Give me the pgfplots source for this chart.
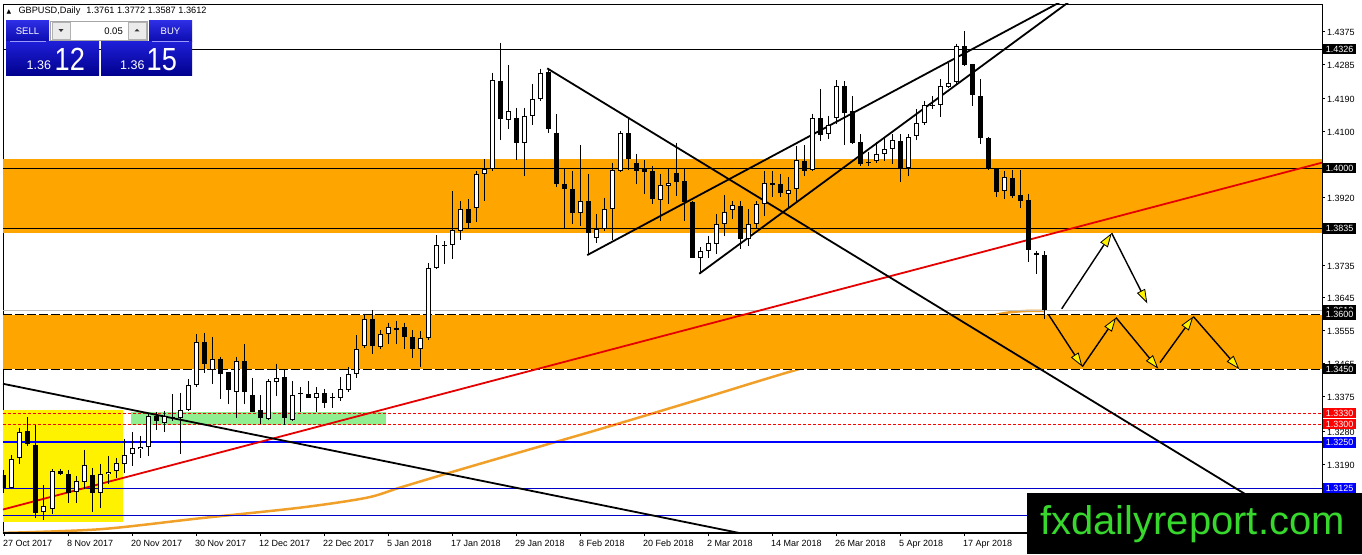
\documentclass[border=0pt]{standalone}
\usepackage{fontspec}
\setmainfont{Liberation Sans}
\newfontfamily\dejavu{DejaVu Sans}
\usepackage{pgfplots}
\pgfplotsset{compat=1.18}
\usepackage{pgfplotstable}
\usetikzlibrary{arrows.meta}

\definecolor{band}{RGB}{255,165,0}
\definecolor{ma}{RGB}{240,160,40}
\definecolor{lgreen}{RGB}{144,238,144}
\definecolor{navyl}{RGB}{0,0,200}
\definecolor{btop}{RGB}{45,45,228}
\definecolor{bbot}{RGB}{12,12,175}
\definecolor{bigtop}{RGB}{30,30,215}
\definecolor{bigbot}{RGB}{0,0,140}
\definecolor{wmgreen}{RGB}{55,215,45}

% white (rising) candles: index, open, high, low, close
\pgfplotstableread{
i o h l c
1 1.3124 1.3215 1.3121 1.3203
2 1.3206 1.3290 1.3190 1.3279
5 1.3058 1.3133 1.3038 1.3075
6 1.3068 1.3176 1.3055 1.3170
9 1.3114 1.3158 1.3083 1.3144
10 1.3142 1.3228 1.3121 1.3188
12 1.3112 1.3190 1.3071 1.3162
13 1.3162 1.3212 1.3135 1.3168
14 1.3170 1.3207 1.3153 1.3192
15 1.3191 1.3258 1.3167 1.3215
16 1.3217 1.3277 1.3185 1.3233
17 1.3231 1.3267 1.3207 1.3238
18 1.3236 1.3327 1.3212 1.3322
20 1.3304 1.3335 1.3277 1.3322
21 1.3317 1.3381 1.3309 1.3320
22 1.3317 1.3386 1.3219 1.3337
23 1.3337 1.3422 1.3335 1.3406
24 1.3406 1.3545 1.3401 1.3523
26 1.3447 1.3538 1.3410 1.3477
29 1.3388 1.3484 1.3317 1.3472
33 1.3313 1.3422 1.3311 1.3417
34 1.3416 1.3465 1.3377 1.3427
36 1.3311 1.3417 1.3309 1.3378
37 1.3381 1.3401 1.3332 1.3384
39 1.3372 1.3401 1.3332 1.3384
41 1.3372 1.3386 1.3343 1.3375
42 1.3370 1.3429 1.3363 1.3395
43 1.3392 1.3456 1.3388 1.3438
44 1.3436 1.3543 1.3425 1.3504
45 1.3514 1.3601 1.3509 1.3587
47 1.3511 1.3556 1.3504 1.3545
48 1.3545 1.3577 1.3520 1.3566
49 1.3558 1.3583 1.3520 1.3563
52 1.3504 1.3554 1.3456 1.3536
53 1.3536 1.3741 1.3531 1.3727
54 1.3728 1.3816 1.3723 1.3789
55 1.3788 1.3801 1.3737 1.3790
56 1.3789 1.3937 1.3752 1.3830
57 1.3828 1.3910 1.3803 1.3889
59 1.3892 1.3992 1.3853 1.3983
60 1.3983 1.4024 1.3910 1.3997
61 1.3997 1.4261 1.3992 1.4241
63 1.4133 1.4281 1.4106 1.4156
65 1.4070 1.4165 1.3979 1.4143
66 1.4143 1.4229 1.4117 1.4188
67 1.4188 1.4272 1.4184 1.4261
72 1.3876 1.4062 1.3843 1.3910
74 1.3808 1.3874 1.3794 1.3833
75 1.3834 1.3919 1.3828 1.3887
76 1.3887 1.4015 1.3803 1.3995
77 1.3992 1.4102 1.3989 1.4095
82 1.3912 1.3985 1.3855 1.3953
83 1.3951 1.4001 1.3901 1.3958
87 1.3755 1.3784 1.3709 1.3773
88 1.3773 1.3814 1.3755 1.3796
89 1.3793 1.3874 1.3764 1.3846
90 1.3846 1.3927 1.3814 1.3881
91 1.3885 1.3910 1.3860 1.3898
93 1.3805 1.3887 1.3787 1.3848
94 1.3846 1.3910 1.3837 1.3901
95 1.3901 1.3992 1.3869 1.3958
96 1.3957 1.3992 1.3921 1.3958
98 1.3930 1.3976 1.3892 1.3939
99 1.3942 1.4061 1.3910 1.4021
101 1.3994 1.4149 1.3992 1.4136
103 1.4093 1.4143 1.4080 1.4118
104 1.4136 1.4240 1.4120 1.4225
108 1.4014 1.4045 1.4006 1.4016
109 1.4020 1.4072 1.4015 1.4040
110 1.4040 1.4083 1.4020 1.4052
111 1.4052 1.4093 1.4010 1.4076
113 1.3999 1.4093 1.3979 1.4085
114 1.4088 1.4161 1.4076 1.4124
115 1.4124 1.4184 1.4118 1.4173
116 1.4172 1.4197 1.4161 1.4174
117 1.4173 1.4243 1.4140 1.4225
118 1.4222 1.4289 1.4220 1.4234
119 1.4236 1.4341 1.4229 1.4334
125 1.3937 1.3992 1.3915 1.3976
}\upc

% black (falling) candles: index, open, high, low, close
\pgfplotstableread{
i o h l c
0 1.3160 1.3175 1.3110 1.3124
3 1.3281 1.3319 1.3240 1.3245
4 1.3242 1.3297 1.3042 1.3057
7 1.3171 1.3176 1.3160 1.3164
8 1.3162 1.3173 1.3085 1.3112
11 1.3160 1.3180 1.3060 1.3112
19 1.3322 1.3333 1.3283 1.3307
25 1.3523 1.3550 1.3440 1.3465
27 1.3479 1.3484 1.3367 1.3438
28 1.3441 1.3443 1.3356 1.3392
30 1.3472 1.3518 1.3356 1.3388
31 1.3379 1.3427 1.3332 1.3334
32 1.3337 1.3379 1.3301 1.3315
35 1.3429 1.3447 1.3297 1.3317
38 1.3381 1.3417 1.3370 1.3372
40 1.3384 1.3395 1.3345 1.3358
46 1.3587 1.3612 1.3492 1.3514
50 1.3566 1.3577 1.3504 1.3538
51 1.3538 1.3556 1.3480 1.3504
58 1.3889 1.3915 1.3833 1.3849
62 1.4238 1.4343 1.4077 1.4135
64 1.4138 1.4165 1.4022 1.4070
68 1.4263 1.4275 1.4097 1.4108
69 1.4097 1.4147 1.3949 1.3956
70 1.3956 1.3999 1.3833 1.3944
71 1.3944 1.3992 1.3846 1.3878
73 1.3910 1.3983 1.3764 1.3822
78 1.4095 1.4138 1.3995 1.4026
79 1.4015 1.4040 1.3956 1.3992
80 1.3997 1.4022 1.3928 1.3989
81 1.3992 1.4006 1.3901 1.3915
84 1.3986 1.4070 1.3924 1.3963
85 1.3965 1.3997 1.3855 1.3906
86 1.3906 1.3910 1.3753 1.3755
92 1.3896 1.3910 1.3778 1.3805
97 1.3957 1.3985 1.3921 1.3933
100 1.4019 1.4063 1.3978 1.3992
102 1.4136 1.4216 1.4074 1.4092
105 1.4225 1.4238 1.4063 1.4152
106 1.4155 1.4197 1.4067 1.4070
107 1.4072 1.4093 1.4006 1.4012
112 1.4074 1.4093 1.3963 1.3997
120 1.4334 1.4375 1.4280 1.4282
121 1.4284 1.4286 1.4170 1.4200
122 1.4197 1.4243 1.4065 1.4082
123 1.4082 1.4085 1.3994 1.3997
124 1.4000 1.4001 1.3921 1.3936
126 1.3972 1.3994 1.3919 1.3924
127 1.3927 1.3994 1.3892 1.3910
128 1.3912 1.3930 1.3744 1.3775
129 1.3768 1.3773 1.3709 1.3762
130 1.3761 1.3772 1.3587 1.3612
}\dnc

\begin{document}
\begin{tikzpicture}
\begin{axis}[
  at={(0,0)}, anchor=south west,
  scale only axis, width=1319pt, height=529pt,
  xmin=-0.125, xmax=164.75, ymin=1.30017, ymax=1.44491,
  clip mode=individual,
  axis line style={black, line width=0.8pt},
  xtick={0,8,...,128},
  xticklabels={27 Oct 2017,8 Nov 2017,20 Nov 2017,30 Nov 2017,12 Dec 2017,22 Dec 2017,5 Jan 2018,17 Jan 2018,29 Jan 2018,8 Feb 2018,20 Feb 2018,2 Mar 2018,14 Mar 2018,26 Mar 2018,5 Apr 2018,17 Apr 2018,{}},
  ytick={1.4375,1.4285,1.4190,1.4100,1.3920,1.3735,1.3645,1.3555,1.3465,1.3375,1.3280,1.3190,1.3100},
  yticklabels={1.4375,1.4285,1.4190,1.4100,1.3920,1.3735,1.3645,1.3555,1.3465,1.3375,1.3280,1.3190,1.3100},
  xtick pos=bottom, ytick pos=right, yticklabel pos=right,
  tick align=outside, major tick length=3pt,
  tick style={black, line width=0.8pt},
  ticklabel style={font=\fontsize{9}{10}\selectfont},
  xticklabel style={anchor=north west, inner sep=0pt, xshift=-1pt, yshift=-4pt},
  yticklabel style={anchor=west, inner sep=0pt, xshift=2pt, yshift=-1pt},
  /pgf/number format/assume math mode=true,
]
% moving average
\addplot[ma, line width=2.5pt, smooth] coordinates {
(-0.125,1.3002) (12,1.3012) (24.5,1.3042) (37,1.3071) (45.3,1.3098) (49.5,1.3126)
(55.75,1.3167) (62,1.3207) (74.5,1.3286) (87,1.3368) (99.5,1.3451) (112,1.3524)
(124.5,1.3601) (130,1.3609)};
% zones
\addplot[draw=none, fill=band] coordinates {(-0.125,1.3823) (164.75,1.3823) (164.75,1.4025) (-0.125,1.4025)};
\addplot[draw=none, fill=band] coordinates {(-0.125,1.3450) (164.75,1.3450) (164.75,1.3600) (-0.125,1.3600)};
\addplot[draw=none, fill=yellow] coordinates {(-0.125,1.3032) (14.875,1.3032) (14.875,1.3338) (-0.125,1.3338)};
\addplot[draw=none, fill=lgreen] coordinates {(15.875,1.3297) (47.75,1.3297) (47.75,1.3333) (15.875,1.3333)};
% horizontal levels
\addplot[black, line width=0.8pt] coordinates {(-0.125,1.4326) (164.75,1.4326)};
\addplot[black, line width=0.8pt] coordinates {(-0.125,1.4000) (164.75,1.4000)};
\addplot[black, line width=0.8pt] coordinates {(-0.125,1.3835) (164.75,1.3835)};
\addplot[black!25, line width=0.8pt] coordinates {(-0.125,1.3612) (164.75,1.3612)};
\addplot[white, line width=1pt] coordinates {(-0.125,1.3600) (164.75,1.3600)};
\addplot[black, line width=1pt, dash pattern=on 9pt off 3pt] coordinates {(-0.125,1.3600) (164.75,1.3600)};
\addplot[white, line width=1pt] coordinates {(-0.125,1.3450) (164.75,1.3450)};
\addplot[black, line width=1pt, dash pattern=on 9pt off 3pt] coordinates {(-0.125,1.3450) (164.75,1.3450)};
\addplot[red, line width=0.8pt, dash pattern=on 3pt off 2pt] coordinates {(-0.125,1.3330) (164.75,1.3330)};
\addplot[red, line width=0.8pt, dash pattern=on 3pt off 2pt] coordinates {(-0.125,1.3300) (164.75,1.3300)};
\addplot[blue, line width=2.2pt] coordinates {(-0.125,1.3250) (164.75,1.3250)};
\addplot[navyl, line width=0.8pt] coordinates {(-0.125,1.3125) (164.75,1.3125)};
\addplot[navyl, line width=0.8pt] coordinates {(-0.125,1.3051) (164.75,1.3051)};
% trend lines
\addplot[red!90!black, line width=1.8pt] coordinates {(-0.125,1.3066) (164.75,1.4015)};
\addplot[black, line width=1.8pt] coordinates {(-0.125,1.3410) (95,1.2988)};
\addplot[black, line width=1.8pt] coordinates {(67.9,1.4273) (164.75,1.2980)};
\addplot[black, line width=1.8pt] coordinates {(72.9,1.3762) (132.25,1.4457)};
\addplot[black, line width=1.8pt] coordinates {(86.9,1.3711) (133.25,1.4457)};
% candle wicks
\addplot[draw=none, mark=none, error bars/.cd, y dir=minus, y explicit, error mark=none,
  error bar style={draw=black, line width=1pt}]
  table[x=i, y=h, y error minus expr=\thisrow{h}-\thisrow{l}] {\upc};
\addplot[draw=none, mark=none, error bars/.cd, y dir=minus, y explicit, error mark=none,
  error bar style={draw=black, line width=1pt}]
  table[x=i, y=h, y error minus expr=\thisrow{h}-\thisrow{l}] {\dnc};
% falling bodies
\addplot[draw=none, mark=none, error bars/.cd, y dir=minus, y explicit, error mark=none,
  error bar style={draw=black, line width=5pt}]
  table[x=i, y=o, y error minus expr={max(\thisrow{o}-\thisrow{c},0.00028)}] {\dnc};
% rising bodies
\addplot[draw=none, mark=none, error bars/.cd, y dir=minus, y explicit, error mark=none,
  error bar style={draw=black, line width=5pt}]
  table[x=i, y=c, y error minus expr={max(\thisrow{c}-\thisrow{o},0.00028)}] {\upc};
\addplot[draw=none, mark=none, error bars/.cd, y dir=minus, y explicit, error mark=none,
  error bar style={draw=white, line width=3pt}]
  table[x=i, y expr=\thisrow{c}-0.000274, y error minus expr={max(\thisrow{c}-\thisrow{o}-0.000548,0)}] {\upc};
% projected path arrows
\tikzset{yarr/.style={black, line width=1.4pt, -{Triangle[length=14pt,width=9pt,fill=yellow,line width=0.8pt]}}}
\addplot[yarr] coordinates {(132.21,1.3615) (138.46,1.3822)};
\addplot[yarr] coordinates {(138.46,1.3822) (142.91,1.3630)};
\addplot[yarr] coordinates {(130.54,1.3600) (134.79,1.3457)};
\addplot[yarr] coordinates {(134.79,1.3457) (139.0,1.3591)};
\addplot[yarr] coordinates {(139.0,1.3591) (144.29,1.3451)};
\addplot[yarr] coordinates {(144.5,1.3468) (148.66,1.3594)};
\addplot[yarr] coordinates {(148.66,1.3594) (154.41,1.3450)};
\draw[line width=2.4pt] (rel axis cs:0,0) -- (rel axis cs:1,0);
\coordinate (La) at (axis cs:164.75,1.4326);
\coordinate (Lb) at (axis cs:164.75,1.4000);
\coordinate (Lc) at (axis cs:164.75,1.3835);
\coordinate (Ld) at (axis cs:164.75,1.3612);
\coordinate (Le) at (axis cs:164.75,1.3600);
\coordinate (Lf) at (axis cs:164.75,1.3450);
\coordinate (Lg) at (axis cs:164.75,1.3330);
\coordinate (Lh) at (axis cs:164.75,1.3300);
\coordinate (Li) at (axis cs:164.75,1.3250);
\coordinate (Lj) at (axis cs:164.75,1.3125);
\end{axis}
\tikzset{lbl/.style={anchor=west, xshift=1pt, inner sep=0pt, minimum width=33pt, minimum height=10.5pt, text=white, font=\fontsize{9}{10}\selectfont}}
\node[lbl, fill=black] at (La) {1.4326};
\node[lbl, fill=black] at (Lb) {1.4000};
\node[lbl, fill=black] at (Lc) {1.3835};
\node[lbl, fill=black] at (Ld) {1.3612};
\node[lbl, fill=black] at (Le) {1.3600};
\node[lbl, fill=black] at (Lf) {1.3450};
\node[lbl, fill=red] at (Lg) {1.3330};
\node[lbl, fill=red] at (Lh) {1.3300};
\node[lbl, fill=blue] at (Li) {1.3250};
\node[lbl, fill=blue] at (Lj) {1.3125};
% overlay in picture pixels
\begin{scope}[shift={(-3pt,533pt)}, x=1pt, y=-1pt]
\node[anchor=base west, inner sep=0pt, font=\dejavu\fontsize{6}{6}\selectfont] at (6.5,13.5) {▲};
\node[anchor=base west, inner sep=0pt, font=\fontsize{9.2}{10}\selectfont] at (18.3,14) {GBPUSD,Daily\hspace{6pt}1.3761 1.3772 1.3587 1.3612};
\shade[top color=btop, bottom color=bbot] (6,21) rectangle (49,41.5);
\shade[top color=btop, bottom color=bbot] (149,21) rectangle (192,41.5);
\shade[top color=bigtop, bottom color=bigbot] (6,42) rectangle (99,76);
\shade[top color=bigtop, bottom color=bigbot] (101,42) rectangle (192,76);
\draw[blue!40!white, line width=0.6pt] (10,41.7) -- (46,41.7);
\draw[blue!40!white, line width=0.6pt] (152,41.7) -- (189,41.7);
\filldraw[fill=white, draw=black!35, line width=0.6pt] (50.5,21.5) rectangle (147,40);
\filldraw[fill=black!8, draw=black!30, line width=0.5pt] (52,22.5) rectangle (70.5,39);
\filldraw[fill=black!8, draw=black!30, line width=0.5pt] (128,22.5) rectangle (146,39);
\fill[black!80] (58.5,29.2) -- (63.5,29.2) -- (61,31.8) -- cycle;
\fill[black!80] (134.5,31.5) -- (139.5,31.5) -- (137,28.9) -- cycle;
\node[anchor=base east, inner sep=0pt, font=\fontsize{9.5}{10}\selectfont] at (123,34.5) {0.05};
\node[anchor=base, inner sep=0pt, text=white, font=\fontsize{9.5}{10}\selectfont] at (27.5,34.5) {SELL};
\node[anchor=base, inner sep=0pt, text=white, font=\fontsize{9.5}{10}\selectfont] at (170.5,34.5) {BUY};
\node[anchor=base west, inner sep=0pt, text=white, font=\fontsize{12.5}{13}\selectfont] at (26.5,70) {1.36};
\node[anchor=base west, inner sep=0pt, text=white, font=\fontsize{32}{32}\selectfont] at (54.5,70.5) {\scalebox{0.85}[1]{12}};
\node[anchor=base west, inner sep=0pt, text=white, font=\fontsize{12.5}{13}\selectfont] at (120,70) {1.36};
\node[anchor=base west, inner sep=0pt, text=white, font=\fontsize{32}{32}\selectfont] at (146.5,70.5) {\scalebox{0.85}[1]{15}};
\fill[black] (1027,493) rectangle (1362,554);
\node[anchor=base west, inner sep=0pt, text=wmgreen, font=\fontsize{40}{40}\selectfont] at (1040,534) {fxdailyreport.com};
\end{scope}
\pgfresetboundingbox
\useasboundingbox (-3pt,-21pt) rectangle (1359pt,533pt);
\end{tikzpicture}
\end{document}
